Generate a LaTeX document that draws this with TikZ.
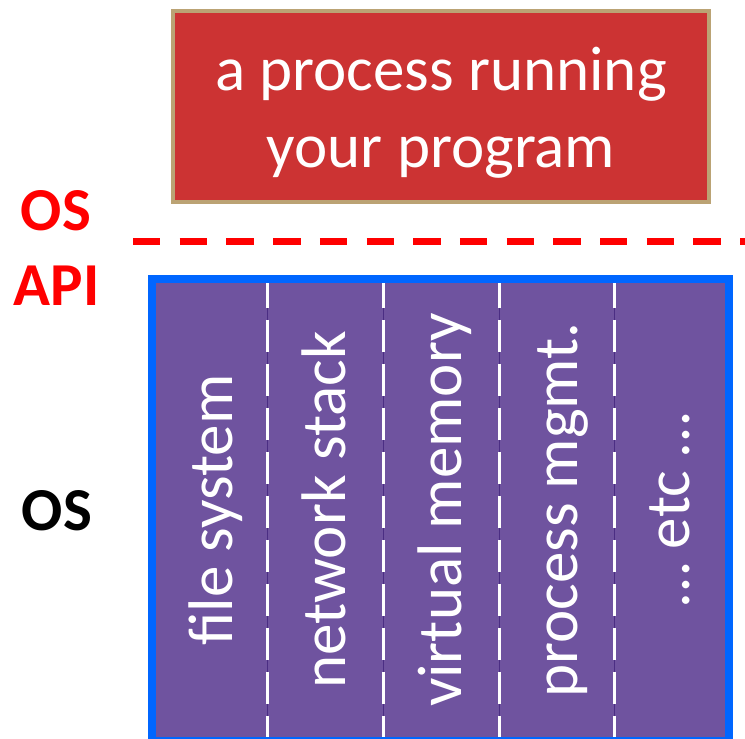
\documentclass[tikz,border=0pt]{standalone}
\usepackage{fontspec}
\setmainfont{Carlito}
\definecolor{boxred}{HTML}{CC3333}
\definecolor{boxtan}{HTML}{BBA374}
\definecolor{ospurple}{HTML}{6F539F}
\definecolor{osblue}{HTML}{0066FF}
\definecolor{apired}{HTML}{FF0000}
\definecolor{darkline}{HTML}{4B2E83}
\tikzset{
  procbox/.style={draw=boxtan, fill=boxred, line width=4pt, minimum width=536pt, minimum height=191pt, inner sep=0pt},
  proctext/.style={text=white, align=center, font=\fontsize{63}{77}\selectfont, inner sep=0pt},
  osbox/.style={fill=ospurple, minimum width=576pt, minimum height=462pt, inner sep=0pt},
  osborder/.style={draw=osblue, line width=8pt},
  sidelabel/.style={font=\fontsize{61}{72}\selectfont\bfseries, anchor=base, inner sep=0pt},
  coltext/.style={rotate=90, anchor=base, text=white, font=\fontsize{63}{77}\selectfont, inner sep=0pt},
  divunder/.style={draw=darkline, line width=1pt},
  divline/.style={draw=white, line width=3pt, dash pattern=on 32pt off 12pt, dash phase=7pt},
  apiline/.style={draw=apired, line width=7pt, dash pattern=on 27.4pt off 19.3pt}
}
\begin{document}
\begin{tikzpicture}[x=1pt,y=-1pt]
\useasboundingbox (0,0) rectangle (745,739);
% process box
\node[procbox] (proc) at (441,106.5) {};
\node[proctext] (proclabel) at (441,113) {a process running\\your program};
% side labels
\node[sidelabel, text=apired] (os1) at (56,230) {OS};
\node[sidelabel, text=apired] (api) at (56.5,305) {API};
\node[sidelabel, text=black] (os2) at (57,530) {OS};
% API dashed line
\coordinate (dl) at (133,241.3);
\coordinate (dr) at (745,241.3);
\draw[apiline] (dl) -- (dr);
% OS box
\node[osbox] (osb) at (440.5,510) {};
\foreach \i/\x in {1/267.5,2/383.5,3/499.5,4/614.5}{
  \coordinate (t\i) at (\x,283);
  \coordinate (b\i) at (\x,737);
  \draw[divunder] (t\i) -- (b\i);
  \draw[divline] (t\i) -- (b\i);
}
\node[coltext] (c1) at (232,510) {file system};
\node[coltext] (c2) at (345.5,510) {network stack};
\node[coltext] (c3) at (461.5,510) {virtual memory};
\node[coltext] (c4) at (577,510) {process mgmt.};
\node[coltext] (c5) at (689.5,510) {… etc …};
\draw[osborder] (osb.north west) rectangle (osb.south east);
\end{tikzpicture}
\end{document}
